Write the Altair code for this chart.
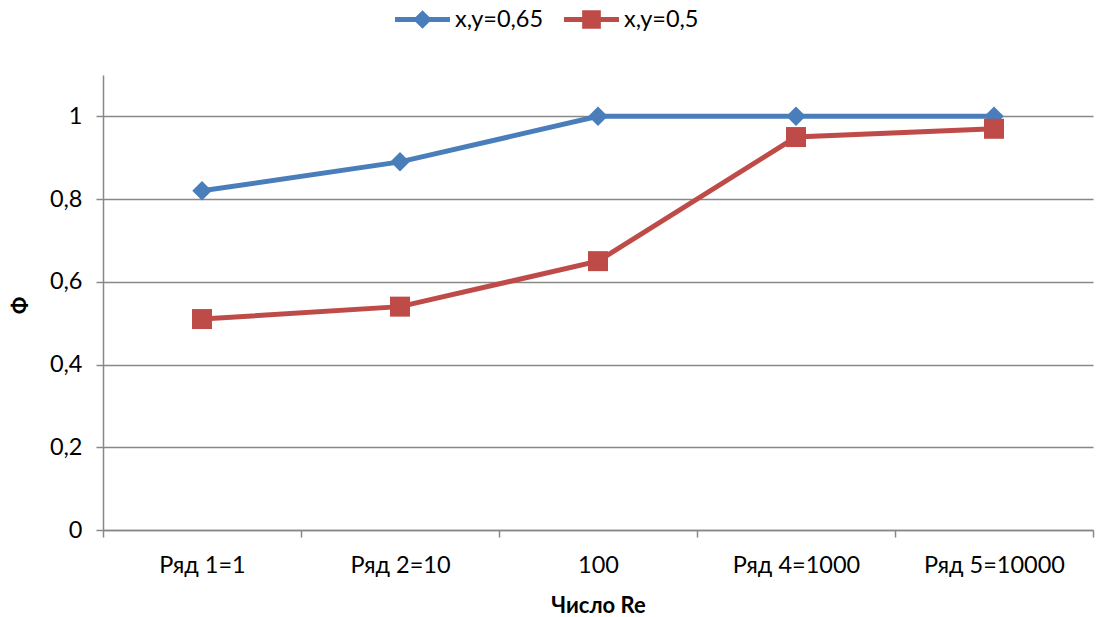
import altair as alt
import pandas as pd

# Reynolds-number categories and the two series of Ф values
categories = ["Ряд 1=1", "Ряд 2=10", "100", "Ряд 4=1000", "Ряд 5=10000"]
series_names = ["x,y=0,65", "x,y=0,5"]
phi_065 = [0.82, 0.89, 1.0, 1.0, 1.0]
phi_05 = [0.51, 0.54, 0.65, 0.95, 0.97]
y_ticks = [0, 0.2, 0.4, 0.6, 0.8, 1.0]

colors = ["#4A7EBB", "#BE4B48"]
FONT = "Lato"
GRAY = "#888888"

rows = []
for name, vals in zip(series_names, [phi_065, phi_05]):
    for c, v in zip(categories, vals):
        rows.append({"cat": c, "phi": v, "series": name})
df = pd.DataFrame(rows)

# legend symbols: a thick line segment with the series marker in the middle
diamond_sym = "M-1,-0.09L1,-0.09L1,0.09L-1,0.09Z M0,-0.34L0.34,0L0,0.34L-0.34,0Z"
square_sym = "M-1,-0.09L1,-0.09L1,0.09L-1,0.09Z M-0.34,-0.34L0.34,-0.34L0.34,0.34L-0.34,0.34Z"

legend = alt.Legend(
    orient="none",
    direction="horizontal",
    legendX=292,
    legendY=-83,
    title=None,
    symbolSize=3025,
    symbolStrokeWidth=0,
    symbolOpacity=1,
    labelFontSize=23.5,
    labelFont=FONT,
    labelColor="black",
    labelOffset=5,
    columnPadding=20,
)

x_enc = alt.X(
    "cat:N",
    sort=categories,
    bandPosition=0.5,
    scale=alt.Scale(type="band", paddingInner=0, paddingOuter=0),
    axis=alt.Axis(
        title="Число Re",
        titleFont=FONT,
        titleFontSize=22,
        titleFontWeight="bold",
        titleColor="black",
        titleY=75,
        titleBaseline="middle",
        labelAngle=0,
        labelFont=FONT,
        labelFontSize=23.5,
        labelColor="black",
        labelBaseline="middle",
        labelPadding=28,
        tickBand="extent",
        tickSize=7,
        tickColor=GRAY,
        tickWidth=1.5,
        domainColor=GRAY,
        domainWidth=1.5,
        grid=False,
    ),
)

y_enc = alt.Y(
    "phi:Q",
    scale=alt.Scale(domain=[0, 1.1], nice=False, zero=True),
    axis=alt.Axis(
        values=y_ticks,
        labelExpr="replace(format(datum.value, '.1~f'), '.', ',')",
        labelFont=FONT,
        labelFontSize=23.5,
        labelColor="black",
        labelPadding=14,
        tickSize=7,
        tickColor=GRAY,
        tickWidth=1.5,
        domainColor=GRAY,
        domainWidth=1.5,
        grid=True,
        gridColor=GRAY,
        gridWidth=1.5,
        title="Ф",
        titleFont=FONT,
        titleFontSize=22,
        titleFontWeight="bold",
        titleColor="black",
        titleAngle=270,
        titleX=-83,
        titleY=230,
        titleAlign="center",
        titleBaseline="middle",
    ),
)

color_enc = alt.Color(
    "series:N",
    sort=series_names,
    scale=alt.Scale(domain=series_names, range=colors),
    legend=legend,
)

base = alt.Chart(df).encode(x=x_enc, y=y_enc, color=color_enc)

layers = []
for name, shape, size in zip(series_names, ["diamond", "square"], [380, 400]):
    sub = base.transform_filter(alt.datum.series == name)
    layers.append(sub.mark_line(strokeWidth=5))
    layers.append(sub.mark_point(filled=True, opacity=1, size=size, shape=shape))

# empty layer that only carries the legend's line-and-marker symbols
legend_layer = base.transform_filter("false").mark_point(filled=True, opacity=1).encode(
    shape=alt.Shape(
        "series:N",
        sort=series_names,
        scale=alt.Scale(domain=series_names, range=[diamond_sym, square_sym]),
        legend=legend,
    )
)
layers.append(legend_layer)

chart = (
    alt.layer(*layers)
    .properties(
        width=990,
        height=455,
        autosize=alt.AutoSizeParams(type="none"),
        padding={"left": 103, "top": 75, "right": 3, "bottom": 87},
        background="white",
    )
    .configure_view(stroke=None)
)

chart.save("out.html", embed_options={"renderer": "svg", "actions": False})
